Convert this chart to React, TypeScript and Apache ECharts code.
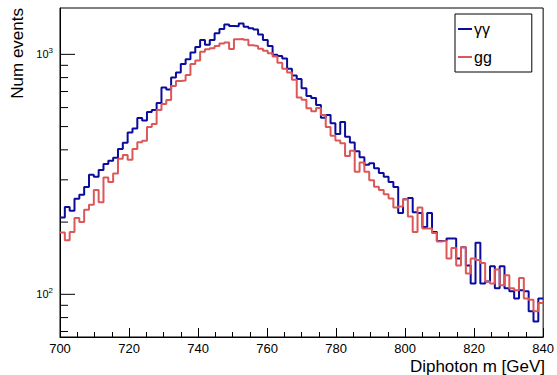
import React, { useEffect, useRef } from 'react';
import * as echarts from 'echarts';

const FONT = '"Liberation Sans", Arial, Helvetica, sans-serif';

const X_MIN = 700;
const X_MAX = 840;
const BIN_WIDTH = 1.4;
const Y_MIN = 66.4;
const Y_MAX = 1560;

const seriesNames = ['γγ', 'gg'];

// gamma-gamma histogram (100 bins, 700-840 GeV)
const gammaGammaCounts = [
  209, 231, 223, 250, 260, 280, 315, 309, 330, 349,
  360, 371, 403, 428, 472, 491, 543, 530, 575, 586,
  627, 727, 713, 800, 840, 911, 953, 1017, 1072, 1147,
  1096, 1147, 1223, 1275, 1331, 1314, 1308, 1346, 1303, 1283,
  1269, 1209, 1147, 1083, 997, 984, 962, 870, 816, 789,
  722, 670, 658, 615, 544, 559, 516, 466, 522, 454,
  429, 395, 373, 347, 352, 335, 320, 309, 294, 280,
  218, 249, 252, 220, 218, 191, 218, 182, 167, 167,
  171, 171, 141, 157, 132, 111, 164, 111, 113, 131,
  106, 131, 106, 103, 96, 104, 103, 85, 77, 96,
];

// gg histogram
const ggCounts = [
  181, 168, 182, 208, 200, 225, 236, 272, 242, 307,
  294, 319, 367, 381, 364, 403, 430, 436, 498, 512,
  586, 621, 645, 738, 774, 778, 820, 911, 942, 1025,
  1049, 1059, 1083, 1111, 1120, 1052, 1156, 1158, 1150, 1090,
  1083, 1054, 1034, 1010, 979, 922, 871, 840, 784, 661,
  647, 596, 579, 598, 559, 498, 458, 437, 426, 377,
  397, 324, 354, 324, 299, 281, 272, 261, 251, 230,
  232, 249, 211, 182, 230, 188, 188, 180, 166, 167,
  141, 156, 132, 157, 122, 141, 139, 135, 113, 111,
  127, 109, 120, 106, 104, 117, 96, 95, 85, 92,
];

const yMajorTicks = [100, 1000];
const yMinorTicks = [70, 80, 90, 200, 300, 400, 500, 600, 700, 800, 900];

const BLUE = '#0c0c9c';
const RED = '#dc5858';

function toSteps(vals: number[]) {
  const pts = vals.map((v, i) => [X_MIN + i * BIN_WIDTH, v]);
  pts.push([X_MAX, vals[vals.length - 1]]);
  return pts;
}

export default function App() {
  const ref = useRef<HTMLDivElement>(null);
  useEffect(() => {
    if (!ref.current) return;
    const chart = echarts.init(ref.current, null, { renderer: 'svg' });
    const tickData = [
      ...yMajorTicks.map((v) => [X_MIN, v, 15]),
      ...yMinorTicks.map((v) => [X_MIN, v, 8]),
    ];
    chart.setOption({
      animation: false,
      textStyle: { fontFamily: FONT },
      grid: {
        left: 60,
        right: 12,
        top: 8,
        bottom: 38,
        show: true,
        borderColor: '#000',
        borderWidth: 1,
      },
      xAxis: {
        type: 'value',
        min: X_MIN,
        max: X_MAX,
        interval: 20,
        axisLine: { show: true, onZero: false, lineStyle: { color: '#000', width: 1 } },
        axisTick: { show: true, inside: true, length: 9, lineStyle: { color: '#000' } },
        minorTick: { show: true, splitNumber: 4, length: 5, lineStyle: { color: '#000' } },
        splitLine: { show: false },
        minorSplitLine: { show: false },
        axisLabel: { color: '#000', fontSize: 13, margin: 5, fontFamily: FONT },
      },
      yAxis: {
        type: 'log',
        min: Y_MIN,
        max: Y_MAX,
        axisLine: { show: true, lineStyle: { color: '#000', width: 1 } },
        axisTick: { show: false },
        splitLine: { show: false },
        axisLabel: {
          margin: 7,
          color: '#000',
          formatter: (v: number) => {
            const e = Math.log10(v);
            if (Math.abs(e - Math.round(e)) < 1e-6) {
              return '{b|10}{s|' + Math.round(e) + '}';
            }
            return '';
          },
          rich: {
            b: { fontSize: 11, color: '#000', fontFamily: FONT },
            s: { fontSize: 8, color: '#000', fontFamily: FONT, padding: [0, 0, 7, 0] },
          },
        },
      },
      legend: {
        data: [
          { name: seriesNames[0], icon: 'rect' },
          { name: seriesNames[1], icon: 'rect' },
        ],
        orient: 'vertical',
        left: 455,
        top: 14,
        itemWidth: 14,
        itemHeight: 2,
        itemGap: 12,
        padding: [7, 40, 7, 3],
        backgroundColor: '#fff',
        borderColor: '#000',
        borderWidth: 1,
        borderRadius: 0,
        textStyle: { fontSize: 16, color: '#000', lineHeight: 14, fontFamily: FONT, padding: [0, 0, 0, -3] },
      },
      graphic: [
        {
          type: 'text',
          x: 545,
          y: 366,
          style: {
            text: 'Diphoton m [GeV]',
            fontSize: 17,
            fontFamily: FONT,
            fill: '#000',
            align: 'right',
            verticalAlign: 'middle',
          },
        },
        {
          type: 'text',
          x: 17,
          y: 8,
          rotation: Math.PI / 2,
          style: {
            text: 'Num events',
            fontSize: 17,
            fontFamily: FONT,
            fill: '#000',
            align: 'right',
            verticalAlign: 'middle',
          },
        },
      ],
      series: [
        {
          name: seriesNames[0],
          type: 'line',
          step: 'end',
          showSymbol: false,
          color: BLUE,
          lineStyle: { color: BLUE, width: 2 },
          data: toSteps(gammaGammaCounts),
          z: 3,
        },
        {
          name: seriesNames[1],
          type: 'line',
          step: 'end',
          showSymbol: false,
          color: RED,
          lineStyle: { color: RED, width: 2 },
          data: toSteps(ggCounts),
          z: 4,
        },
        {
          type: 'custom',
          name: 'yticks',
          data: tickData,
          encode: { x: 0, y: 1 },
          silent: true,
          z: 5,
          renderItem: (params: any, api: any) => {
            const p = api.coord([api.value(0), api.value(1)]);
            const len = api.value(2);
            return {
              type: 'line',
              shape: { x1: p[0], y1: p[1], x2: p[0] + len, y2: p[1] },
              style: { stroke: '#000', lineWidth: 1 },
            };
          },
        },
      ],
    });
    return () => chart.dispose();
  }, []);
  return (
    <div
      ref={ref}
      style={{ position: 'fixed', left: 0, top: 0, width: 557, height: 375, background: '#fff' }}
    />
  );
}
